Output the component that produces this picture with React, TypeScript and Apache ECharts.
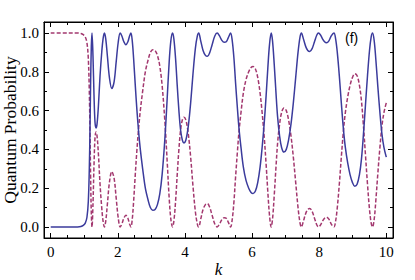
import React, { useEffect, useRef } from "react";
import * as echarts from "echarts";

const kValues = [
  0, 0.5, 0.8, 0.9, 0.97, 1.03, 1.08, 1.12, 1.15, 1.17,
  1.19, 1.21, 1.23, 1.26, 1.29, 1.32, 1.35, 1.38, 1.42, 1.47,
  1.52, 1.56, 1.6, 1.64, 1.69, 1.75, 1.82, 1.89, 1.95, 2.01,
  2.07, 2.12, 2.18, 2.24, 2.3, 2.35, 2.39, 2.43, 2.47, 2.52,
  2.57, 2.62, 2.67, 2.74, 2.82, 2.9, 2.97, 3.04, 3.11, 3.18,
  3.25, 3.32, 3.4, 3.47, 3.53, 3.58, 3.63, 3.67, 3.72, 3.77,
  3.82, 3.87, 3.92, 3.97, 4.03, 4.1, 4.17, 4.24, 4.31, 4.37,
  4.41, 4.47, 4.54, 4.61, 4.67, 4.74, 4.81, 4.89, 4.96, 5.03,
  5.1, 5.17, 5.23, 5.29, 5.36, 5.41, 5.46, 5.51, 5.56, 5.61,
  5.67, 5.74, 5.82, 5.9, 5.97, 6.03, 6.1, 6.17, 6.24, 6.3,
  6.36, 6.42, 6.47, 6.52, 6.57, 6.61, 6.66, 6.71, 6.76, 6.82,
  6.88, 6.95, 7.02, 7.09, 7.16, 7.23, 7.3, 7.37, 7.43, 7.47,
  7.53, 7.6, 7.66, 7.72, 7.79, 7.86, 7.93, 7.98, 8.04, 8.1,
  8.16, 8.22, 8.29, 8.36, 8.44, 8.49, 8.54, 8.6, 8.66, 8.72,
  8.78, 8.85, 8.92, 8.99, 9.06, 9.13, 9.2, 9.26, 9.32, 9.38,
  9.44, 9.5, 9.55, 9.59, 9.64, 9.69, 9.75, 9.81, 9.87, 9.93,
  10.0,
];

const probSolid = [
  0, 0, 0, 0.002, 0.008, 0.02, 0.05, 0.13, 0.3, 0.5,
  0.75, 0.93, 1.0, 0.88, 0.68, 0.54, 0.51, 0.53, 0.62, 0.78,
  0.9, 0.97, 1.0, 0.97, 0.88, 0.77, 0.714, 0.75, 0.85, 0.95,
  1.0, 0.985, 0.955, 0.94, 0.955, 0.985, 1.0, 0.96, 0.87, 0.73,
  0.6, 0.49, 0.4, 0.3, 0.2, 0.14, 0.1, 0.086, 0.09, 0.115,
  0.17, 0.27, 0.45, 0.66, 0.85, 0.96, 1.0, 0.97, 0.87, 0.73,
  0.6, 0.5, 0.45, 0.434, 0.45, 0.52, 0.64, 0.79, 0.92, 0.985,
  1.0, 0.96, 0.91, 0.885, 0.88, 0.9, 0.94, 0.985, 1.0, 0.985,
  0.962, 0.952, 0.955, 0.975, 1.0, 0.96, 0.87, 0.74, 0.62, 0.51,
  0.41, 0.31, 0.24, 0.2, 0.178, 0.172, 0.185, 0.23, 0.31, 0.41,
  0.53, 0.68, 0.82, 0.94, 1.0, 0.96, 0.84, 0.7, 0.57, 0.47,
  0.41, 0.386, 0.4, 0.45, 0.53, 0.64, 0.77, 0.9, 0.98, 1.0,
  0.97, 0.93, 0.91, 0.905, 0.92, 0.955, 0.99, 1.0, 0.99, 0.97,
  0.955, 0.95, 0.96, 0.985, 1.0, 0.97, 0.9, 0.78, 0.64, 0.51,
  0.41, 0.33, 0.27, 0.23, 0.21, 0.22, 0.27, 0.35, 0.48, 0.63,
  0.78, 0.91, 0.98, 1.0, 0.96, 0.86, 0.72, 0.59, 0.48, 0.41,
  0.36,
];

const probDashed = [
  1, 1, 1, 0.998, 0.992, 0.98, 0.95, 0.87, 0.7, 0.5,
  0.25, 0.07, 0, 0.12, 0.32, 0.46, 0.49, 0.47, 0.38, 0.22,
  0.1, 0.03, 0, 0.03, 0.12, 0.23, 0.286, 0.25, 0.15, 0.05,
  0, 0.015, 0.045, 0.06, 0.045, 0.015, 0, 0.04, 0.13, 0.27,
  0.4, 0.51, 0.6, 0.7, 0.8, 0.86, 0.9, 0.914, 0.91, 0.885,
  0.83, 0.73, 0.55, 0.34, 0.15, 0.04, 0, 0.03, 0.13, 0.27,
  0.4, 0.5, 0.55, 0.566, 0.55, 0.48, 0.36, 0.21, 0.08, 0.015,
  0, 0.04, 0.09, 0.115, 0.12, 0.1, 0.06, 0.015, 0, 0.015,
  0.038, 0.048, 0.045, 0.025, 0, 0.04, 0.13, 0.26, 0.38, 0.49,
  0.59, 0.69, 0.76, 0.8, 0.822, 0.828, 0.815, 0.77, 0.69, 0.59,
  0.47, 0.32, 0.18, 0.06, 0, 0.04, 0.16, 0.3, 0.43, 0.53,
  0.59, 0.614, 0.6, 0.55, 0.47, 0.36, 0.23, 0.1, 0.02, 0,
  0.03, 0.07, 0.09, 0.095, 0.08, 0.045, 0.01, 0, 0.01, 0.03,
  0.045, 0.05, 0.04, 0.015, 0, 0.03, 0.1, 0.22, 0.36, 0.49,
  0.59, 0.67, 0.73, 0.77, 0.79, 0.78, 0.73, 0.65, 0.52, 0.37,
  0.22, 0.09, 0.02, 0, 0.04, 0.14, 0.28, 0.41, 0.52, 0.59,
  0.64,
];

const xAxisTitle = "k";
const yAxisTitle = "Quantum Probability";
const panelLabel = "(f)";

export default function App() {
  const ref = useRef<HTMLDivElement>(null);
  useEffect(() => {
    const chart = echarts.init(ref.current!, null, { renderer: "svg" });
    const solid = kValues.map((k, i) => [k, probSolid[i]]);
    const dashed = kValues.map((k, i) => [k, probDashed[i]]);
    const serif = "'Liberation Serif', 'Times New Roman', serif";
    const lineStyle = { color: "#000", width: 1 };
    const xCommon: any = {
      type: "value",
      min: -0.2,
      max: 10.2,
      splitNumber: 5,
      splitLine: { show: false },
      axisLine: { show: true, onZero: false, lineStyle },
      axisTick: { show: true, inside: true, length: 5, lineStyle },
      minorTick: { show: true, splitNumber: 4, length: 3, lineStyle },
    };
    const yCommon: any = {
      type: "value",
      min: -0.057,
      max: 1.057,
      splitNumber: 5,
      splitLine: { show: false },
      axisLine: { show: true, onZero: false, lineStyle },
      axisTick: { show: true, inside: true, length: 5, lineStyle },
      minorTick: { show: true, splitNumber: 2, length: 3, lineStyle },
    };
    chart.setOption({
      animation: false,
      backgroundColor: "#fff",
      grid: {
        left: 44,
        top: 22,
        right: 22,
        bottom: 42,
        containLabel: false,
        outerBoundsMode: "none",
        show: true,
        borderColor: "#000",
        borderWidth: 1,
      },
      xAxis: [
        {
          ...xCommon,
          position: "bottom",
          name: xAxisTitle,
          nameLocation: "middle",
          nameGap: 23,
          nameMoveOverlap: false,
          nameTextStyle: { fontFamily: serif, fontStyle: "italic", fontSize: 17, color: "#000" },
          axisLabel: {
            show: true,
            margin: 6,
            fontFamily: serif,
            fontSize: 15,
            color: "#000",
            showMinLabel: false,
            showMaxLabel: false,
            formatter: (v: number) => String(Math.round(v)),
          },
        },
        {
          ...xCommon,
          position: "top",
          axisLabel: { show: false },
        },
      ],
      yAxis: [
        {
          ...yCommon,
          position: "left",
          name: yAxisTitle,
          nameLocation: "middle",
          nameGap: 25,
          nameRotate: 90,
          nameMoveOverlap: false,
          nameTextStyle: { fontFamily: serif, fontSize: 17.5, color: "#000" },
          axisLabel: {
            show: true,
            margin: 5,
            fontFamily: serif,
            fontSize: 15,
            color: "#000",
            showMinLabel: false,
            showMaxLabel: false,
            formatter: (v: number) => v.toFixed(1),
          },
        },
        {
          ...yCommon,
          position: "right",
          axisLabel: { show: false },
        },
      ],
      graphic: [
        {
          type: "text",
          left: 345,
          top: 31,
          style: {
            text: panelLabel,
            font: "14px 'Liberation Sans', Arial, sans-serif",
            fill: "#000",
          },
        },
      ],
      series: [
        {
          type: "line",
          data: solid,
          showSymbol: false,
          smooth: 0.35,
          lineStyle: { color: "#3b3b9c", width: 1.5 },
          z: 3,
        },
        {
          type: "line",
          data: dashed,
          showSymbol: false,
          smooth: 0.35,
          lineStyle: { color: "#a3386f", width: 1.5, type: [4, 2] },
          z: 2,
        },
      ],
    });
    return () => chart.dispose();
  }, []);
  return (
    <div
      ref={ref}
      style={{ position: "fixed", left: 0, top: 0, width: 415, height: 280 }}
    />
  );
}
